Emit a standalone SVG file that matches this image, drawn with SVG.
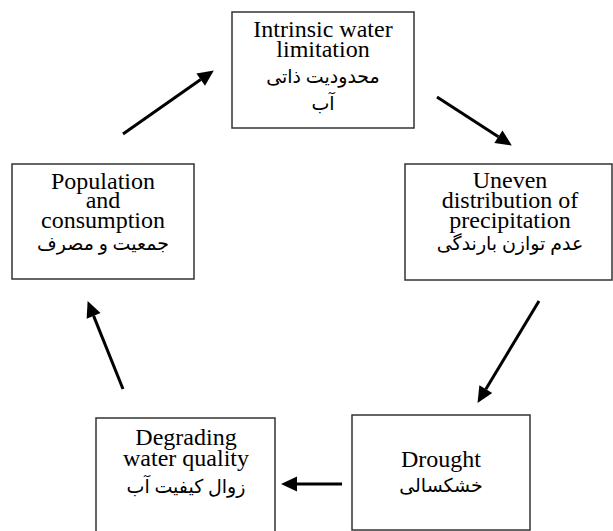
<svg xmlns="http://www.w3.org/2000/svg" width="613" height="531" viewBox="0 0 613 531">
<style>
.box{fill:#fff;stroke:#333;stroke-width:1.5}
.en{font-family:"Liberation Serif","Times New Roman",serif;font-size:24px;fill:#000;text-anchor:middle}
.fa{font-family:"Liberation Serif","DejaVu Serif","DejaVu Sans",serif;font-size:19px;fill:#000;text-anchor:middle}
.arr{stroke:#000;stroke-width:3;fill:none;marker-end:url(#ah)}
</style>
<defs>
<marker id="ah" markerUnits="userSpaceOnUse" markerWidth="16" markerHeight="16" refX="0" refY="8" orient="auto" overflow="visible">
<path d="M0,0.5 L16,8 L0,15.5 z" fill="#000"/>
</marker>
</defs>
<rect width="613" height="531" fill="#fff"/>
<g id="connectors">
<line class="arr" x1="123" y1="134" x2="200.7" y2="79.6"/>
<line class="arr" x1="437" y1="97" x2="498.4" y2="136.8"/>
<line class="arr" x1="539" y1="301" x2="485.8" y2="389.2"/>
<line class="arr" x1="342" y1="484" x2="297" y2="484"/>
<line class="arr" x1="123" y1="389" x2="93.6" y2="315.9"/>
</g>
<g id="n-intrinsic">
<rect class="box" x="232" y="12" width="182" height="116"/>
<text class="en" x="323" y="37">Intrinsic water</text>
<text class="en" x="323" y="57">limitation</text>
<text class="fa" x="323" y="83">محدودیت ذاتی</text>
<text class="fa" x="323" y="110">آب</text>
</g>
<g id="n-uneven">
<rect class="box" x="405" y="164" width="207" height="116"/>
<text class="en" x="510" y="188">Uneven</text>
<text class="en" x="510" y="208">distribution of</text>
<text class="en" x="510" y="228">precipitation</text>
<text class="fa" x="510" y="250">عدم توازن بارندگی</text>
</g>
<g id="n-population">
<rect class="box" x="12" y="164" width="182" height="115"/>
<text class="en" x="103" y="189">Population</text>
<text class="en" x="103" y="208">and</text>
<text class="en" x="103" y="228">consumption</text>
<text class="fa" x="103" y="250">جمعیت و مصرف</text>
</g>
<g id="n-degrading">
<rect class="box" x="96" y="418" width="179" height="130"/>
<text class="en" x="186" y="445">Degrading</text>
<text class="en" x="186" y="466">water quality</text>
<text class="fa" x="186" y="493">زوال کیفیت آب</text>
</g>
<g id="n-drought">
<rect class="box" x="352" y="415" width="178" height="115"/>
<text class="en" x="441" y="467">Drought</text>
<text class="fa" x="441" y="492">خشکسالی</text>
</g>
</svg>
